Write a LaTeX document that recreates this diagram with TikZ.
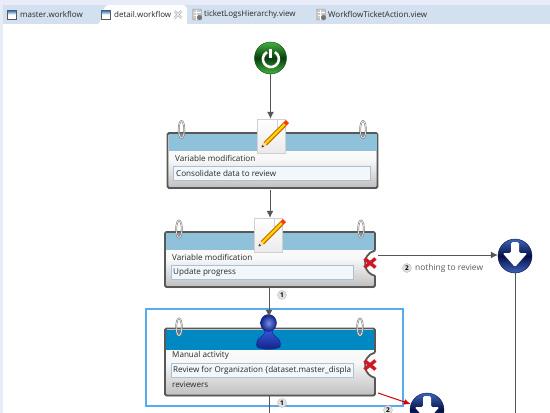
\documentclass[tikz,border=0pt]{standalone}
\usepackage{fontspec}
\setmainfont{Open Sans}
\usetikzlibrary{arrows.meta,shadows}

\definecolor{tabbar}{RGB}{210,224,239}
\definecolor{chrome}{RGB}{232,236,248}
\definecolor{headerblue}{RGB}{143,193,219}
\definecolor{headerdeep}{RGB}{0,136,194}
\definecolor{rim}{RGB}{88,88,88}
\definecolor{fieldfill}{RGB}{241,247,251}
\definecolor{fieldline}{RGB}{170,192,212}
\definecolor{selectblue}{RGB}{90,170,240}
\definecolor{linegray}{RGB}{85,85,85}
\definecolor{labeltext}{RGB}{40,40,40}
\definecolor{powerlight}{RGB}{70,175,65}
\definecolor{powerdark}{RGB}{8,62,12}
\definecolor{exitlight}{RGB}{62,100,185}
\definecolor{exitdark}{RGB}{6,16,72}
\definecolor{persontop}{RGB}{55,95,225}
\definecolor{personlow}{RGB}{18,32,135}
\definecolor{crossred}{RGB}{205,25,35}

\tikzset{
  taskbox/.style={draw=rim, line width=1.8pt, rounded corners=1.5pt, top color=white, bottom color=black!25, middle color=black!3,
    minimum width=210pt, inner sep=0pt, drop shadow={opacity=.3, shadow xshift=0pt, shadow yshift=-1.2pt}},
  headerband/.style={minimum width=208pt, inner sep=0pt},
  tasktitle/.style={anchor=west, inner sep=0pt, font=\fontsize{8.1}{10}\selectfont, text=labeltext},
  taskfield/.style={anchor=west, draw=fieldline, fill=fieldfill, minimum height=14pt, inner sep=0pt},
  tabtitle/.style={anchor=west, inner sep=0pt, font=\fontsize{8}{10}\selectfont, text=labeltext},
  tabwindow/.style={draw=black!65, top color=blue!55!cyan!80!black, bottom color=white, middle color=white, minimum width=9pt, minimum height=9pt, inner sep=0pt},
  tabview/.style={draw=black!40, fill=black!22, rounded corners=1pt, minimum width=9pt, minimum height=11pt, inner sep=0pt},
  flow/.style={draw=linegray, line width=1pt, -{Latex[length=7pt,width=7pt]}},
  plainflow/.style={draw=linegray, line width=1pt},
  redflow/.style={draw=red!85!black, line width=1pt, -{Latex[length=7pt,width=6pt]}},
  pageicon/.style={draw=black!18, top color=white, bottom color=black!8, minimum width=28pt, minimum height=34pt, inner sep=0pt},
  powerball/.style={circle, draw=black!70!green, minimum size=32pt, inner sep=0pt, top color=powerlight, bottom color=powerlight, middle color=powerdark},
  exitball/.style={circle, draw=exitdark, minimum size=34pt, inner sep=0pt, top color=exitlight, bottom color=exitlight, middle color=exitdark},
  branchmark/.style={circle, fill=black!12, draw=black!25, minimum size=9pt, inner sep=0pt, font=\fontsize{6.5}{7}\selectfont\bfseries},
  edgetext/.style={anchor=west, inner sep=0pt, font=\fontsize{8.4}{10}\selectfont, text=black!65},
  errormark/.style={minimum size=12pt, inner sep=0pt},
  pics/pencilmark/.style={code={
    \fill[white] (6,-17) -- (14,-9) -- (6,-9) -- cycle;
    \draw[black!18] (6,-17) -- (6,-9) -- (14,-9);
    \draw[orange!80!black, line width=4.6pt] (-6,8) -- (14,-12);
    \draw[yellow!75!orange, line width=2.2pt] (-6,8) -- (14,-12);
    \draw[red!55!orange, line width=4.4pt] (14,-12) -- (16.5,-14.5);
    \fill[orange!30!white] (-9.5,11.5) -- (-8,5.5) -- (-3.5,10) -- cycle;
    \fill[black!75] (-9.5,11.5) -- (-8.8,8.8) -- (-6.8,10.8) -- cycle;
  }},
  pics/personmark/.style={code={
    \shade[top color=persontop, bottom color=personlow, draw=personlow]
      (-4,-6) .. controls (-4,-1) and (-5,1) .. (-8,3) .. controls (-12,5) and (-13,9) .. (-12,13)
      .. controls (-6,16) and (5,16) .. (11,13) .. controls (12,9) and (11,5) .. (7,3)
      .. controls (4,1) and (3,-1) .. (3,-6) -- cycle;
    \shade[inner color=persontop!70!white, outer color=personlow, draw=personlow]
      (-0.5,-11) ellipse [x radius=8, y radius=8.5];
  }},
  pics/powermark/.style={code={
    \draw[white, line width=2.6pt] (4.4,-5.9) arc [start angle=-60, end angle=240, radius=8];
    \draw[white, line width=2.8pt] (0,-9) -- (0,0);
  }},
  pics/downmark/.style={code={
    \fill[white, rounded corners=1.5pt] (-4,-14) -- (4,-14) -- (4,-3) -- (12.5,-3) -- (0,11) -- (-12.5,-3) -- (-4,-3) -- cycle;
  }},
  pics/errorcross/.style={code={
    \draw[crossred, line width=3.4pt] (-5.5,-4.5) -- (5.5,4.5);
    \draw[crossred, line width=3.4pt] (-5.5,4.5) -- (5.5,-4.5);
  }},
  pics/ringmark/.style={code={
    \fill[black!50, opacity=.6] (0,6) circle (3);
    \draw[black!55, line width=1.7pt] (0,0) ellipse [x radius=2.8, y radius=8.5];
    \draw[black!8, line width=0.7pt] (0,0) ellipse [x radius=2.8, y radius=8.5];
  }},
  pics/closemark/.style={code={
    \draw[black!45, line width=2pt] (-3.5,-3.5) -- (3.5,3.5);
    \draw[black!45, line width=2pt] (-3.5,3.5) -- (3.5,-3.5);
    \draw[white, line width=0.8pt] (-3.5,-3.5) -- (3.5,3.5);
    \draw[white, line width=0.8pt] (-3.5,3.5) -- (3.5,-3.5);
  }},
  pics/viewmark/.style={code={
    \draw[white, line width=0.6pt] (-3.5,-2) -- (3.5,-2);
    \draw[white, line width=0.6pt] (-3.5,1) -- (1,1);
    \draw[white, line width=0.6pt] (-1,-5) -- (-1,5);
    \fill[black!55] (2.5,3) ellipse [x radius=2.5, y radius=2.5];
  }},
}

\begin{document}
\begin{tikzpicture}[x=1pt,y=-1pt]
  \clip (0,0) rectangle (550,413);
  \fill[white] (0,0) rectangle (550,413);

  % Window frame
  \fill[chrome] (0,0) rectangle (550,5);
  \fill[chrome] (0,5) rectangle (3,413);
  \fill[tabbar] (3,5) rectangle (550,24);

  % Active tab
  \fill[white] (98,24) .. controls (103,22) and (101,5) .. (109,5) -- (182,5)
    .. controls (186,5) and (187,7) .. (187,11) -- (187,24) -- cycle;

  % Tabs
  \node[tabwindow] (masterwindow) at (11.5,14.5) {};
  \node[tabtitle] (mastertab) at (20,14.5) {master.workflow};
  \node[tabwindow] (detailwindow) at (106,14.5) {};
  \node[tabtitle] (detailtab) at (114,14.5) {detail.workflow};
  \coordinate (detailclose) at (178,14.5);
  \pic at (detailclose) {closemark};
  \node[tabview] (logsview) at (197,14.5) {};
  \pic at (logsview) {viewmark};
  \node[tabtitle] (logstab) at (204,14.5) {ticketLogsHierarchy.view};
  \node[tabview] (actionview) at (321,14.5) {};
  \pic at (actionview) {viewmark};
  \node[tabtitle] (actiontab) at (328,14.5) {WorkflowTicketAction.view};

  % Start
  \node[powerball] (startnode) at (270.5,58) {};
  \pic at (startnode) {powermark};

  % Consolidate activity
  \node[taskbox, minimum height=55pt] (consolidate) at (272.5,160.5) {};
  \node[headerband, fill=headerblue, minimum height=17pt] (consolidatehead) at (272.5,142) {};
  \pic at (181.5,129.5) {ringmark};
  \pic at (363,129.5) {ringmark};
  \node[tasktitle] (consolidatetitle) at (175,158) {Variable modification};
  \node[taskfield, minimum width=197pt] (consolidatefield) at (173,173) {};
  \node[tasktitle] (consolidatetext) at (176,173.5) {Consolidate data to review};
  \node[pageicon] (pencilone) at (271,136) {};
  \pic at (pencilone) {pencilmark};
  \coordinate (consolidateout) at (270,190);

  % Update activity
  \node[taskbox, minimum height=55pt] (updatebox) at (270,259.5) {};
  \node[headerband, fill=headerblue, minimum height=17pt] (updatehead) at (270,241) {};
  \pic at (179,229) {ringmark};
  \pic at (361,229) {ringmark};
  \node[tasktitle] (updatetitle) at (172,257.5) {Variable modification};
  \node[taskfield, minimum width=182pt] (updatefield) at (171,272) {};
  \node[tasktitle] (updatetext) at (173,272) {Update progress};
  \node[pageicon] (pencilbis) at (268,235) {};
  \pic at (pencilbis) {pencilmark};
  \fill[white] (378,263) circle (13);
  \draw[rim, line width=1.8pt] (375,250.5) arc [start angle=-103, end angle=-257, radius=13];
  \node[errormark] (updateerror) at (370,263) {};
  \pic at (updateerror) {errorcross};
  \coordinate (updateout) at (378,255);

  % Selection
  \draw[selectblue, line width=1.5pt] (146,309) rectangle (403,406);

  % Review activity
  \node[taskbox, minimum height=67pt] (reviewbox) at (270,362) {};
  \node[headerband, fill=headerdeep, minimum height=20pt] (reviewhead) at (270,340) {};
  \pic at (179,327) {ringmark};
  \pic at (360,327) {ringmark};
  \node[tasktitle] (reviewtitle) at (172,355) {Manual activity};
  \node[taskfield, minimum width=182pt] (reviewfield) at (171,370) {};
  \node[tasktitle] (reviewtext) at (173,370.5) {Review for Organization \{dataset.master\_displa};
  \node[tasktitle] (reviewers) at (172,385) {reviewers};
  \node[minimum width=28pt, minimum height=34pt, inner sep=0pt] (personicon) at (269,334) {};
  \pic at (personicon) {personmark};
  \fill[white] (378,365) circle (13);
  \draw[rim, line width=1.8pt] (375,352.5) arc [start angle=-103, end angle=-257, radius=13];
  \node[errormark] (reviewerror) at (370,365) {};
  \pic at (reviewerror) {errorcross};
  \coordinate (reviewout) at (378,393);

  % Exits
  \node[exitball] (exitone) at (515,256) {};
  \pic at (exitone) {downmark};
  \node[exitball] (exittwo) at (427,410) {};
  \pic at (exittwo) {downmark};
  \coordinate (exitoneend) at (515,413);
  \coordinate (reviewend) at (269,413);

  % Connectors
  \draw[flow] (startnode.south) -- (pencilone.north -| startnode);
  \draw[flow] (consolidateout) -- (pencilbis.north -| consolidateout);
  \draw[flow] (updatebox.south -| personicon) -- (personicon.north);
  \draw[flow] (updateout) -- (exitone.west |- updateout);
  \draw[plainflow] (exitone.south) -- (exitoneend);
  \draw[plainflow] (reviewbox.south -| reviewend) -- (reviewend);
  \draw[redflow] (reviewout) -- (exittwo.160);

  % Branch labels
  \node[branchmark] (branchupdate) at (282,295) {1};
  \node[branchmark] (branchnothing) at (407,268) {2};
  \node[edgetext] (nothinglabel) at (415,268) {nothing to review};
  \node[branchmark] (branchreview) at (282,403) {1};
  \node[branchmark] (branchreviewexit) at (388,410) {2};
\end{tikzpicture}
\end{document}
